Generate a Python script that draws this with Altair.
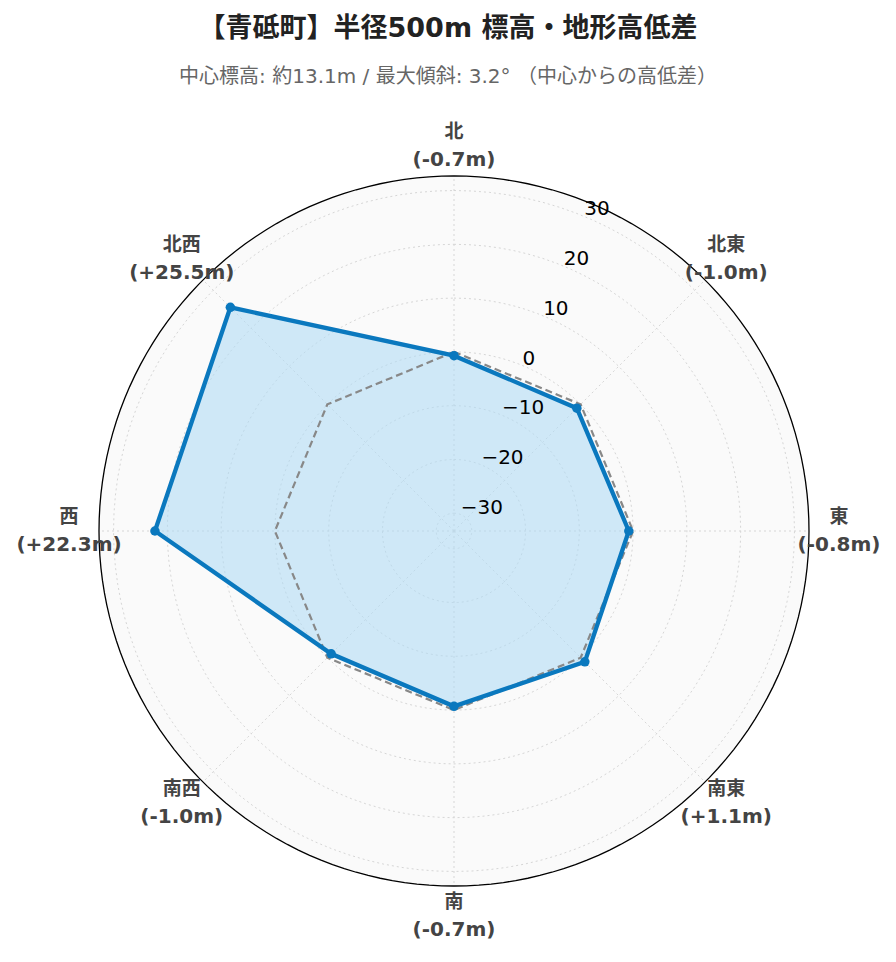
import altair as alt
import pandas as pd

# ---- data ----
directions = ["北", "北東", "東", "南東", "南", "南西", "西", "北西"]
angles_deg = [0, 45, 90, 135, 180, 225, 270, 315]
diffs = [-0.7, -1.0, -0.8, 1.1, -0.7, -1.0, 22.3, 25.5]
ticks = [-30, -20, -10, 0, 10, 20, 30]
tick_labels = [str(t).replace("-", "\u2212") for t in ticks]

title_text = "【青砥町】半径500m 標高・地形高低差"
subtitle_text = "中心標高: 約13.1m / 最大傾斜: 3.2° （中心からの高低差）"

# ---- geometry / style ----
RMIN, RMAX = -33.3, 32.7
R_PX = 355
LABEL_R = 385
TICK_ANGLE = 22.5
FONT = "DejaVu Sans, Noto Sans CJK JP"
BLUE = "#0A78BE"

df = pd.DataFrame({
    "dir": directions,
    "ang": angles_deg,
    "diff": diffs,
    "idx": list(range(len(directions))),
    "lab": [f"({d:+.1f}m)" for d in diffs],
})
tick_df = pd.DataFrame({"t": ticks, "tl": tick_labels})

def rexpr(field):
    return f"({field} - ({RMIN})) / ({RMAX} - ({RMIN})) * {R_PX}"

xs = alt.Scale(domain=[-446, 434], nice=False, zero=False)
ys = alt.Scale(domain=[-419, 431], nice=False, zero=False)
X = alt.X("x:Q", scale=xs, axis=None)
Y = alt.Y("y:Q", scale=ys, axis=None)

# background disk + outer circle
bg = (
    alt.Chart(alt.sequence(0, 360, 2, as_="deg"))
    .transform_calculate(
        x=f"{R_PX} * sin(datum.deg * PI / 180)",
        y=f"{R_PX} * cos(datum.deg * PI / 180)",
    )
    .mark_line(interpolate="linear-closed", fill="#fafafa", stroke="black", strokeWidth=1.3)
    .encode(x=X, y=Y, order="deg:Q")
)

# grid circles
grid = (
    alt.Chart(tick_df)
    .transform_calculate(r=rexpr("datum.t"), degs="sequence(0, 361, 3)")
    .transform_flatten(["degs"])
    .transform_calculate(
        x="datum.r * sin(datum.degs * PI / 180)",
        y="datum.r * cos(datum.degs * PI / 180)",
    )
    .mark_line(stroke="#d6d6d6", strokeWidth=1, strokeDash=[2, 3])
    .encode(x=X, y=Y, detail="t:N", order="degs:Q")
)

# spokes
spokes = (
    alt.Chart(df)
    .transform_calculate(
        x="0", y="0",
        x2=f"{R_PX} * sin(datum.ang * PI / 180)",
        y2=f"{R_PX} * cos(datum.ang * PI / 180)",
    )
    .mark_rule(stroke="#d6d6d6", strokeWidth=1, strokeDash=[2, 3])
    .encode(x=X, y=Y, x2="x2:Q", y2="y2:Q")
)

poly_calc = dict(
    x=f"{rexpr('datum.diff')} * sin(datum.ang * PI / 180)",
    y=f"{rexpr('datum.diff')} * cos(datum.ang * PI / 180)",
)

fill = (
    alt.Chart(df)
    .transform_calculate(**poly_calc)
    .mark_line(interpolate="linear-closed", fill="#b0daf5", fillOpacity=0.58, strokeOpacity=0)
    .encode(x=X, y=Y, order="idx:Q")
)

zero = (
    alt.Chart(df)
    .transform_calculate(
        x=f"{rexpr('0')} * sin(datum.ang * PI / 180)",
        y=f"{rexpr('0')} * cos(datum.ang * PI / 180)",
    )
    .mark_line(interpolate="linear-closed", stroke="#888888", strokeWidth=2.2, strokeDash=[7, 4])
    .encode(x=X, y=Y, order="idx:Q")
)

line = (
    alt.Chart(df)
    .transform_calculate(**poly_calc)
    .mark_line(interpolate="linear-closed", stroke=BLUE, strokeWidth=4.3)
    .encode(x=X, y=Y, order="idx:Q")
)

pts = (
    alt.Chart(df)
    .transform_calculate(**poly_calc)
    .mark_circle(size=90, color=BLUE, opacity=1)
    .encode(x=X, y=Y)
)

tick_text = (
    alt.Chart(tick_df)
    .transform_calculate(
        x=f"{rexpr('datum.t')} * sin({TICK_ANGLE} * PI / 180)",
        y=f"{rexpr('datum.t')} * cos({TICK_ANGLE} * PI / 180)",
    )
    .mark_text(align="left", baseline="alphabetic", dy=-1, font=FONT, fontSize=20, color="#000000")
    .encode(x=X, y=Y, text="tl:N")
)

lab_calc = dict(
    x=f"{LABEL_R} * sin(datum.ang * PI / 180)",
    y=f"{LABEL_R} * cos(datum.ang * PI / 180)",
)
lab1 = (
    alt.Chart(df)
    .transform_calculate(**lab_calc)
    .mark_text(align="center", baseline="middle", dy=-14, font=FONT, fontSize=19,
               fontWeight="bold", color="#444444")
    .encode(x=X, y=Y, text="dir:N")
)
lab2 = (
    alt.Chart(df)
    .transform_calculate(**lab_calc)
    .mark_text(align="center", baseline="middle", dy=14, font=FONT, fontSize=20,
               fontWeight="bold", color="#444444")
    .encode(x=X, y=Y, text="lab:N")
)

chart = (
    alt.layer(bg, grid, spokes, fill, zero, line, pts, tick_text, lab1, lab2)
    .properties(
        width=880,
        height=850,
        background="white",
        padding={"left": 0, "top": 92, "right": 0, "bottom": 0},
        autosize=alt.AutoSizeParams(type="none"),
        title=alt.TitleParams(
            text=title_text,
            subtitle=subtitle_text,
            font=FONT,
            subtitleFont=FONT,
            fontSize=27,
            subtitleFontSize=20,
            fontWeight="bold",
            color="#222222",
            subtitleColor="#666666",
            anchor="middle",
            offset=12,
            subtitlePadding=24,
        ),
    )
    .configure_view(stroke="transparent", strokeWidth=0)
)

chart.save("out.html", embed_options={"renderer": "svg", "actions": False})
